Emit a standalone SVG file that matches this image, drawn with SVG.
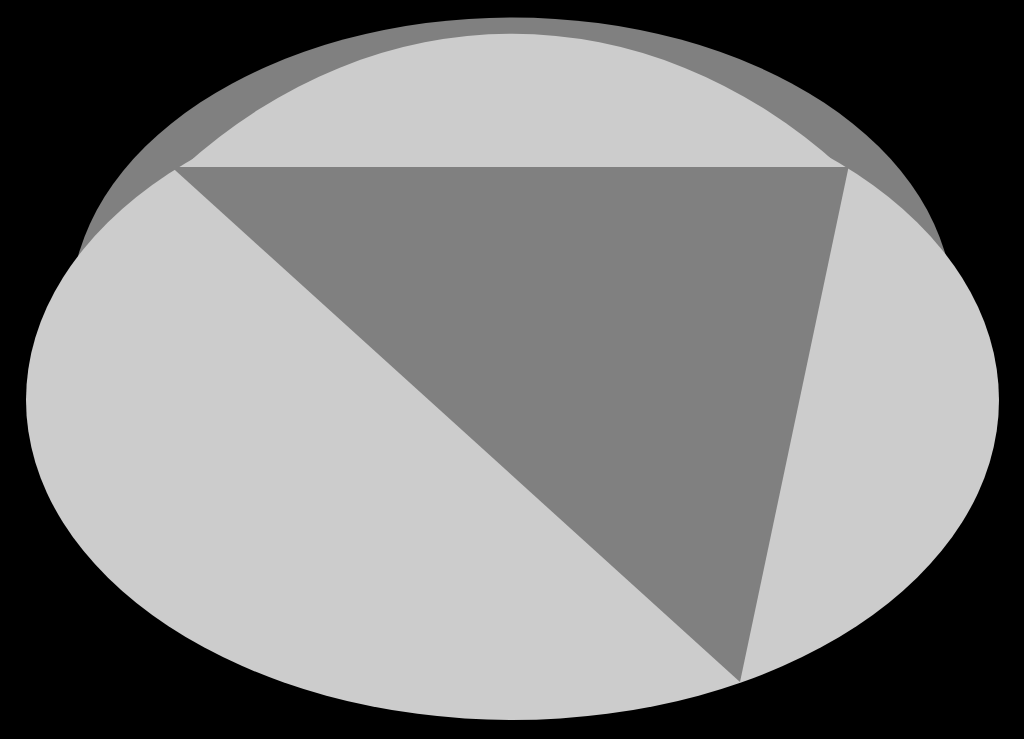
<svg xmlns="http://www.w3.org/2000/svg" width="1024" height="739" viewBox="0 0 1024 739">
  <style>
    .dark { fill: #808080; }
    .light { fill: #cccccc; }
  </style>
  <rect x="0" y="0" width="1024" height="739" fill="#000000"/>
  <g id="back-ellipse">
    <ellipse class="dark" cx="512" cy="308" rx="441" ry="290.5"/>
  </g>
  <g id="main-ellipse">
    <ellipse class="light" cx="512.5" cy="400" rx="486.5" ry="320"/>
  </g>
  <g id="triangle">
    <polygon class="dark" points="171.6,167 848.6,167 740,682"/>
  </g>
  <g id="cap">
    <path class="light" d="M183.3,167 A560,700 0 0 1 840.7,167 Z"/>
  </g>
</svg>
